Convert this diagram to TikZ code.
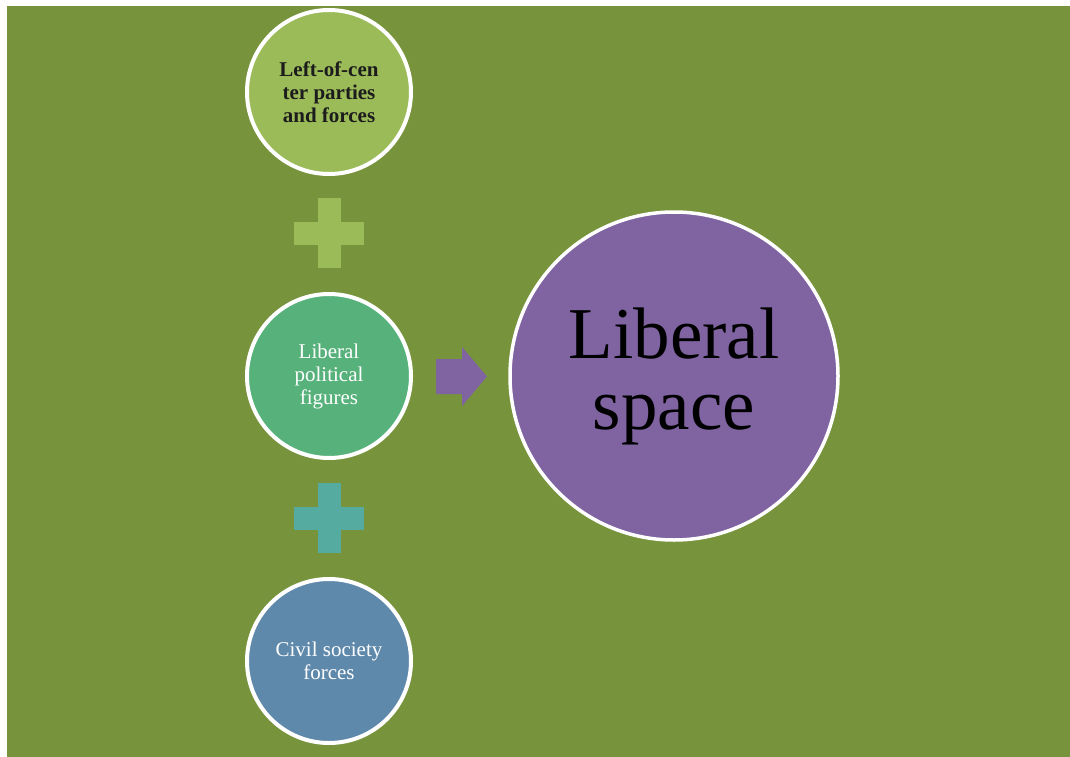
\documentclass[tikz,border=0pt]{standalone}
\usepackage{fontspec}
\setmainfont{Liberation Serif}
\definecolor{bggreen}{HTML}{77933C}
\definecolor{lgreen}{HTML}{9BBB59}
\definecolor{mgreen}{HTML}{57B17B}
\definecolor{steel}{HTML}{5F89AB}
\definecolor{teal}{HTML}{56ABA0}
\definecolor{purp}{HTML}{8064A2}
\definecolor{darktext}{HTML}{1C1C1C}
\tikzset{
  smallcirc/.style={circle, draw=white, line width=4pt, minimum size=164pt, inner sep=0pt, align=center,
    font=\fontsize{21}{23}\selectfont},
  bigcirc/.style={circle, draw=white, line width=3.5pt, minimum size=328pt, inner sep=0pt, align=center,
    font=\fontsize{73}{71}\selectfont},
  plusshape/.style={draw=none},
}
\begin{document}
\begin{tikzpicture}[x=1pt,y=-1pt]
\useasboundingbox (0,0) rectangle (1070,757);
\fill[white] (0,0) rectangle (1070,757);
\fill[bggreen] (7,6) rectangle (1070,757);

\node[smallcirc, fill=lgreen, text=darktext, font=\fontsize{21}{23}\selectfont\bfseries] (left) at (329,92) {Left-of-cen\\ter parties\\and forces};
\node[smallcirc, fill=mgreen, text=white] (figs) at (329,376) {Liberal\\political\\figures};
\node[smallcirc, fill=steel, text=white] (civil) at (329,661) {Civil society\\forces};
\node[bigcirc, fill=purp, text=black] (space) at (674,376) {Liberal\\space};

% plus signs
\coordinate (p1) at (329,233);
\coordinate (p2) at (329,518);
\fill[lgreen] ([xshift=-35pt,yshift=-11.5pt]p1) rectangle ([xshift=35pt,yshift=11.5pt]p1);
\fill[lgreen] ([xshift=-11.5pt,yshift=-35pt]p1) rectangle ([xshift=11.5pt,yshift=35pt]p1);
\fill[teal] ([xshift=-35pt,yshift=-11.5pt]p2) rectangle ([xshift=35pt,yshift=11.5pt]p2);
\fill[teal] ([xshift=-11.5pt,yshift=-35pt]p2) rectangle ([xshift=11.5pt,yshift=35pt]p2);

% arrow
\fill[purp] (436,359) -- (462,359) -- (462,347) -- (487,376.5) -- (462,406) -- (462,394) -- (436,394) -- cycle;
\end{tikzpicture}
\end{document}
